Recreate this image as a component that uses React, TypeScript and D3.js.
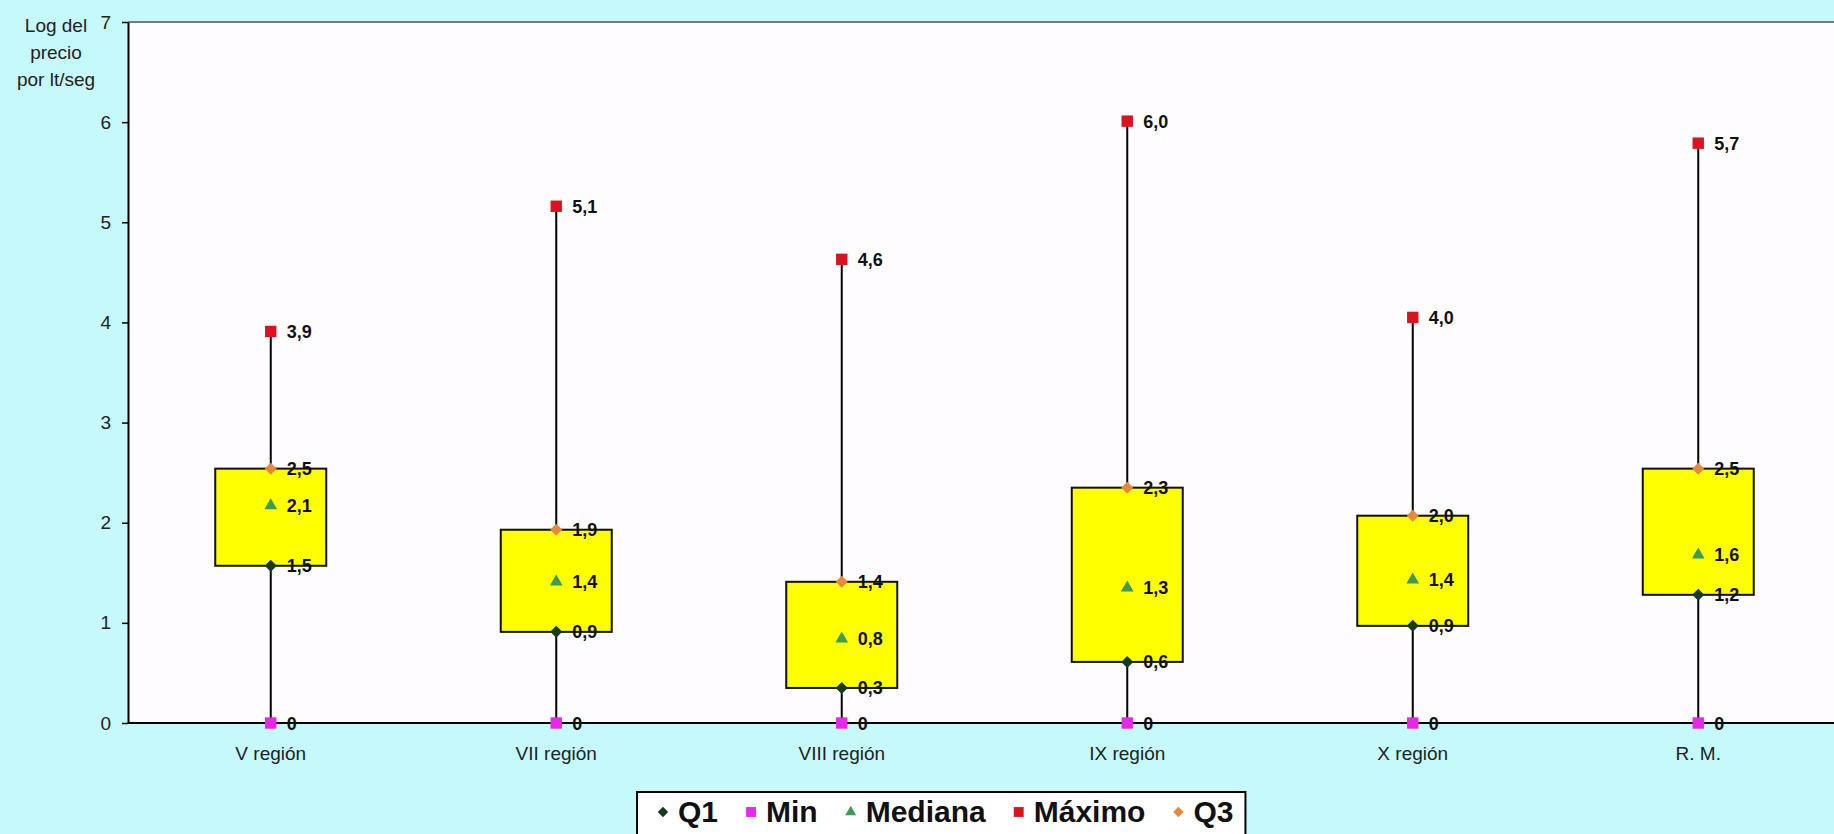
import React, { useEffect, useRef } from "react";
import * as d3 from "d3";

const regions = ["V región", "VII región", "VIII región", "IX región", "X región", "R. M."];
const minVals = [0, 0, 0, 0, 0, 0];
const q1Vals = [1.57, 0.91, 0.35, 0.61, 0.97, 1.28];
const medianVals = [2.17, 1.41, 0.84, 1.35, 1.43, 1.68];
const q3Vals = [2.54, 1.93, 1.41, 2.35, 2.07, 2.54];
const maxVals = [3.91, 5.16, 4.63, 6.01, 4.05, 5.79];
const yTicks = [0, 1, 2, 3, 4, 5, 6, 7];
const axisTitle = ["Log del", "precio", "por lt/seg"];
const legendNames = ["Q1", "Min", "Mediana", "Máximo", "Q3"];

const width = 1834;
const height = 834;

const colors: Record<string, string> = {
  Q1: "#173b22",
  Min: "#e629e6",
  Mediana: "#3f9a55",
  Máximo: "#d9141f",
  Q3: "#e8883a",
};

// Excel shows the values cut to one decimal
const fmt = (v: number) =>
  v === 0 ? "0" : (Math.floor(v * 10 + 1e-9) / 10).toFixed(1).replace(".", ",");

const App: React.FC = () => {
  const ref = useRef<SVGSVGElement>(null);

  useEffect(() => {
    const svg = d3.select(ref.current);
    svg.selectAll("*").remove();

    const margin = { top: 22, left: 128, bottom: 111 };
    const step = 285.5;

    const x = d3
      .scaleBand<string>()
      .domain(regions)
      .range([margin.left, margin.left + step * regions.length])
      .padding(0);

    const y = d3
      .scaleLinear()
      .domain([0, 7])
      .range([height - margin.bottom, margin.top]);

    const font = "'Liberation Sans', Arial, sans-serif";

    svg.append("rect").attr("width", width).attr("height", height).attr("fill", "#c6f9fb");

    // plot area
    svg
      .append("rect")
      .attr("x", margin.left)
      .attr("y", y(7))
      .attr("width", width - margin.left)
      .attr("height", y(0) - y(7))
      .attr("fill", "#fefcfe");
    svg
      .append("line")
      .attr("x1", margin.left)
      .attr("x2", width)
      .attr("y1", y(7))
      .attr("y2", y(7))
      .attr("stroke", "#7a7a7a")
      .attr("stroke-width", 2);

    // y axis
    svg
      .append("g")
      .attr("transform", `translate(${margin.left},0)`)
      .call(
        d3
          .axisLeft(y)
          .tickValues(yTicks)
          .tickFormat(d3.format("d"))
          .tickSize(6)
          .tickSizeOuter(0)
          .tickPadding(11)
      )
      .call((g) => g.select(".domain").attr("stroke", "#000").attr("stroke-width", 2))
      .call((g) => g.selectAll(".tick line").attr("stroke", "#000").attr("stroke-width", 1.5))
      .call((g) =>
        g
          .selectAll(".tick text")
          .attr("font-family", font)
          .attr("font-size", 19)
          .attr("fill", "#222")
      );

    // axis title
    svg
      .append("g")
      .selectAll("text")
      .data(axisTitle)
      .join("text")
      .attr("x", 56)
      .attr("y", (_, i) => 32 + i * 27)
      .attr("text-anchor", "middle")
      .attr("font-family", font)
      .attr("font-size", 19)
      .attr("fill", "#222")
      .text((d) => d);

    // x axis
    svg
      .append("g")
      .attr("transform", `translate(0,${y(0)})`)
      .call(d3.axisBottom(x).tickSize(0).tickSizeOuter(0).tickPadding(24))
      .call((g) => g.select(".domain").remove())
      .call((g) =>
        g
          .selectAll(".tick text")
          .attr("font-family", font)
          .attr("font-size", 19)
          .attr("fill", "#222")
      );
    svg
      .append("line")
      .attr("x1", margin.left)
      .attr("x2", width)
      .attr("y1", y(0))
      .attr("y2", y(0))
      .attr("stroke", "#000")
      .attr("stroke-width", 2);

    const cx = (i: number) => (x(regions[i]) as number) + x.bandwidth() / 2;
    const boxW = 111;

    const g = svg.append("g");

    regions.forEach((r, i) => {
      g.append("line")
        .attr("x1", cx(i))
        .attr("x2", cx(i))
        .attr("y1", y(minVals[i]))
        .attr("y2", y(maxVals[i]))
        .attr("stroke", "#000")
        .attr("stroke-width", 2);
      g.append("rect")
        .attr("x", cx(i) - boxW / 2)
        .attr("y", y(q3Vals[i]))
        .attr("width", boxW)
        .attr("height", y(q1Vals[i]) - y(q3Vals[i]))
        .attr("fill", "#ffff00")
        .attr("stroke", "#111")
        .attr("stroke-width", 2);
    });

    const symbolFor = (name: string, scale: number) => {
      if (name === "Q1" || name === "Q3")
        return { d: d3.symbol(d3.symbolSquare, 72 * scale)(), rot: 45 };
      if (name === "Mediana") return { d: d3.symbol(d3.symbolTriangle, 70 * scale)(), rot: 0 };
      return { d: d3.symbol(d3.symbolSquare, 130 * scale)(), rot: 0 };
    };

    const series: [string, number[]][] = [
      ["Máximo", maxVals],
      ["Q3", q3Vals],
      ["Mediana", medianVals],
      ["Q1", q1Vals],
      ["Min", minVals],
    ];

    series.forEach(([name, vals]) => {
      const sym = symbolFor(name, 1);
      vals.forEach((v, i) => {
        g.append("path")
          .attr("d", sym.d)
          .attr("transform", `translate(${cx(i)},${y(v)}) rotate(${sym.rot})`)
          .attr("fill", colors[name]);
        g.append("text")
          .attr("x", cx(i) + 16)
          .attr("y", y(v) + 6.5)
          .attr("font-family", font)
          .attr("font-weight", "bold")
          .attr("font-size", 18)
          .attr("fill", "#111")
          .text(fmt(v));
      });
    });

    // legend
    const legend = svg.append("g");
    const box = legend
      .append("rect")
      .attr("x", 637)
      .attr("y", 792)
      .attr("height", 60)
      .attr("fill", "#fff")
      .attr("stroke", "#000")
      .attr("stroke-width", 2);

    let lx = 663;
    let end = lx;
    legendNames.forEach((name) => {
      const sym = symbolFor(name, 0.75);
      legend
        .append("path")
        .attr("d", sym.d)
        .attr("transform", `translate(${lx},812) rotate(${sym.rot})`)
        .attr("fill", colors[name]);
      const t = legend
        .append("text")
        .attr("x", lx + 15)
        .attr("y", 822)
        .attr("font-family", font)
        .attr("font-weight", "bold")
        .attr("font-size", 30)
        .attr("fill", "#111")
        .text(name);
      end = lx + 15 + (t.node() as SVGTextElement).getComputedTextLength();
      lx = end + 33;
    });
    box.attr("width", end + 12 - 637);
  }, []);

  return (
    <svg
      ref={ref}
      width={width}
      height={height}
      style={{ position: "absolute", left: 0, top: 0, display: "block" }}
    />
  );
};

export default App;
